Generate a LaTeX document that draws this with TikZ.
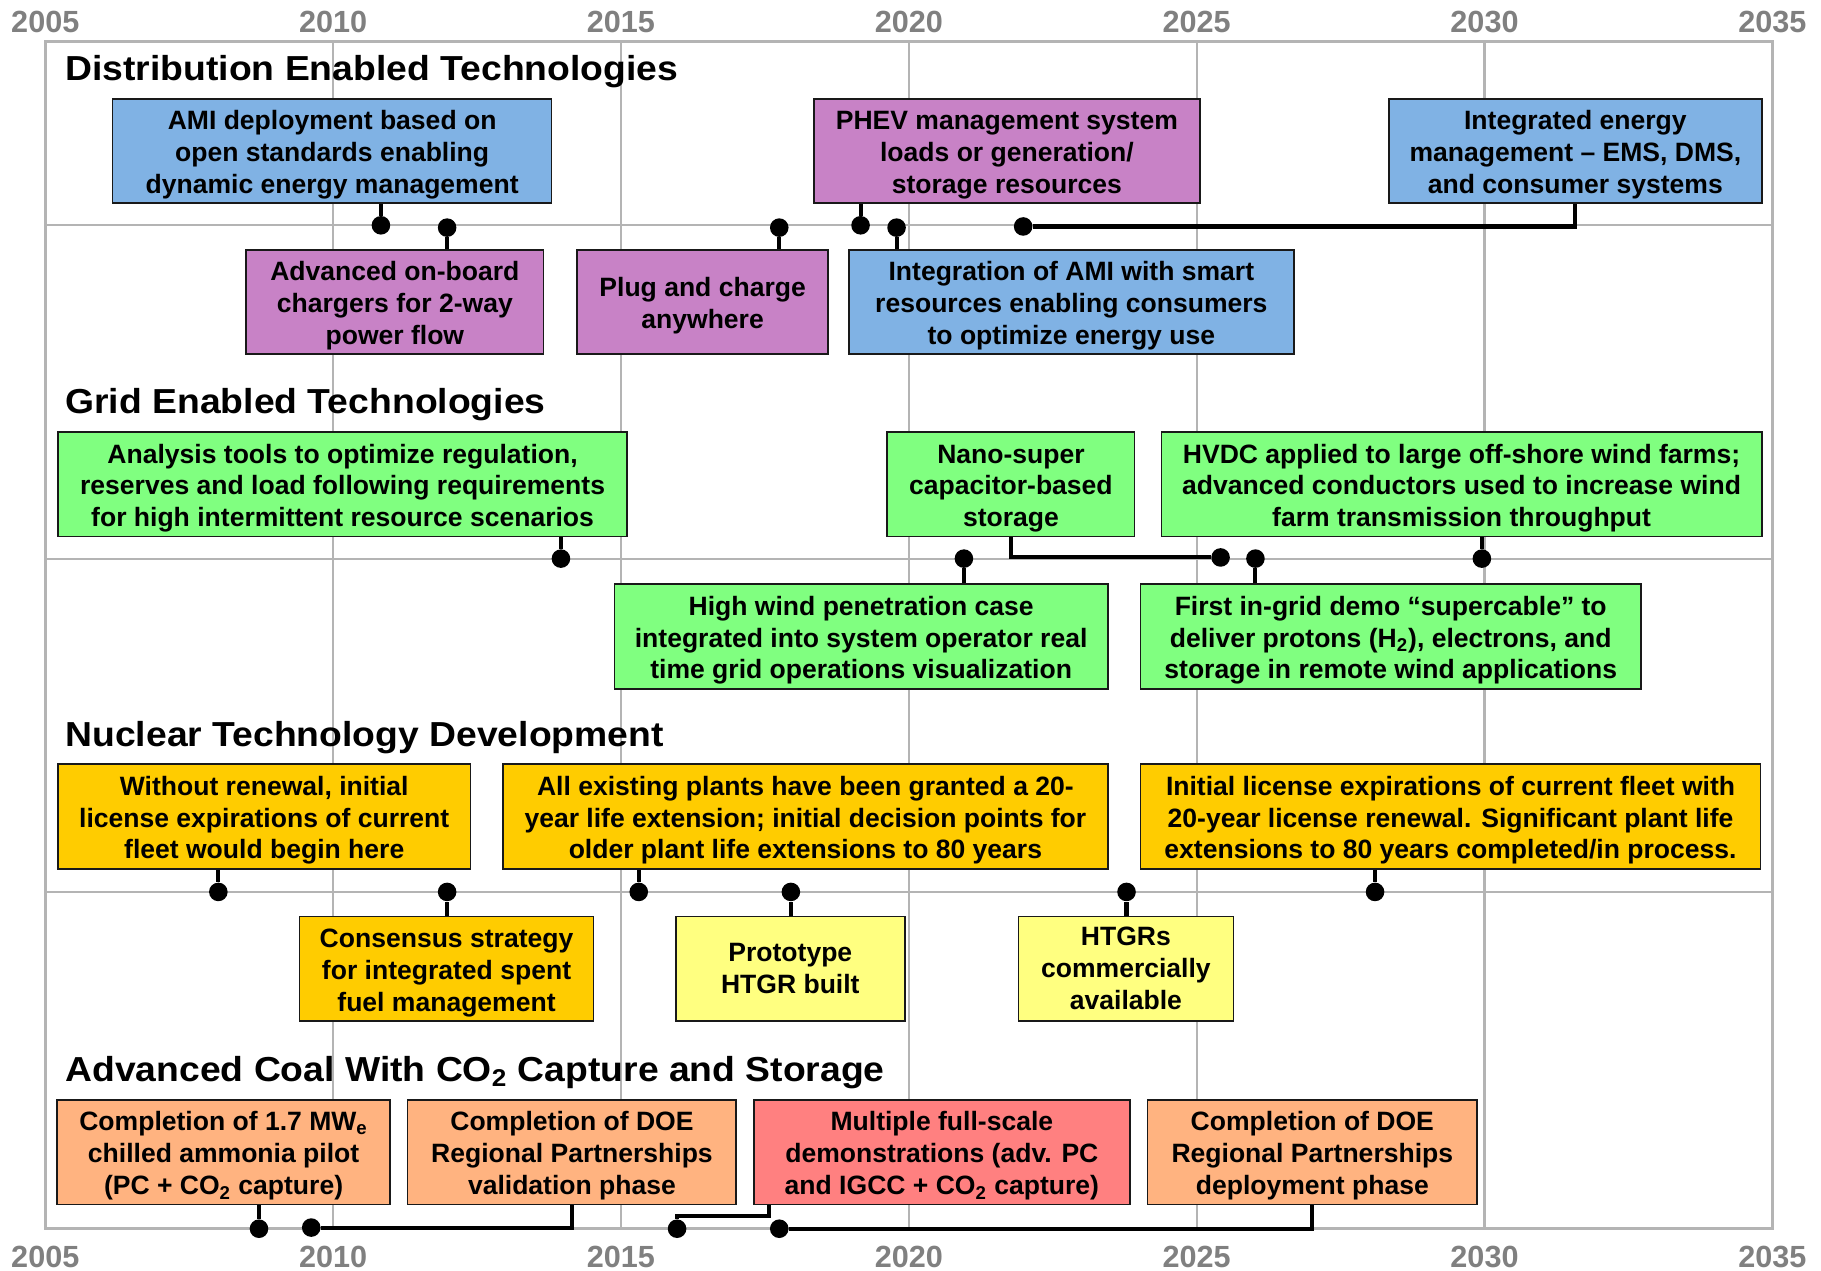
\documentclass[tikz,border=0pt]{standalone}
\usepackage{fontspec}
\setmainfont{Liberation Sans}
\newfontfamily\headfont[FakeStretch=1.075]{Liberation Sans}
\usepackage{tikz}
\usetikzlibrary{calc}

\definecolor{amiblue}{HTML}{80B2E4}
\definecolor{phevpurple}{HTML}{C882C6}
\definecolor{gridgreen}{HTML}{80FF80}
\definecolor{nucgold}{HTML}{FFCC00}
\definecolor{htgryellow}{HTML}{FFFF80}
\definecolor{coalpeach}{HTML}{FFB380}
\definecolor{coalred}{HTML}{FF8080}
\definecolor{framegray}{HTML}{B4B4B4}
\definecolor{yeargray}{HTML}{808080}

% first line strut, so the text sits as in the slide
\newcommand{\evtop}{\rule{0pt}{13.2pt}}

\tikzset{
    event/.style={draw=black!90, line width=0.8pt, align=center, inner sep=0pt,
        minimum height=18mm, font=\fontsize{13}{15.6}\selectfont\bfseries},
    milestone/.style={circle, fill=black, inner sep=0pt, minimum size=3.2mm},
    link/.style={line width=2pt},
    section/.style={anchor=base west, inner sep=0pt, font=\headfont\fontsize{17}{20}\selectfont\bfseries},
    year/.style={font=\fontsize{15}{18}\selectfont\bfseries, text=yeargray},
}

\begin{document}
\begin{tikzpicture}[x=0.2mm, y=-0.2mm]
        \useasboundingbox (0,0) rectangle (1568,1094);
        \def\yw{49.57}

        % time grid
        \foreach \yr in {2010,2015,...,2030} {
            \draw[framegray, line width=1pt] ({39+(\yr-2005)*\yw},36) -- ({39+(\yr-2005)*\yw},1058);
        }
        \foreach \yy in {194,481,768} {
            \draw[framegray, line width=1pt] (39,\yy) -- (1526,\yy);
        }
        \draw[framegray, line width=1.6pt] (39,36) rectangle (1526,1058);
        \foreach \yr in {2005,2010,...,2035} {
            \node[year] (top-\yr) at ({39+(\yr-2005)*\yw},19) {\yr};
            \node[year] (bot-\yr) at ({39+(\yr-2005)*\yw},1082) {\yr};
        }

        % section titles
        \node[section] (dist) at (56,69) {Distribution Enabled Technologies};
        \node[section] (grid) at (56,356) {Grid Enabled Technologies};
        \node[section] (nuc) at (56,643) {Nuclear Technology Development};
        \node[section] (coal) at (56,931) {Advanced Coal With CO\textsubscript{2} Capture and Storage};

        % distribution
        \node[event, fill=amiblue, minimum width=75.6mm] (ami) at (286,130) {\evtop AMI deployment based on\\open standards enabling\\dynamic energy management};
        \node[event, fill=phevpurple, minimum width=51.2mm] (chg) at (340,260) {\evtop Advanced on-board\\chargers for 2-way\\power flow};
        \node[event, fill=phevpurple, minimum width=43.2mm] (plug) at (605,260) {\evtop Plug and charge\\anywhere};
        \node[event, fill=phevpurple, minimum width=66.4mm] (phev) at (867,130) {\evtop PHEV management system\\loads or generation/\\storage resources};
        \node[event, fill=amiblue, minimum width=76.6mm] (amiint) at (922.5,260) {\evtop Integration of AMI with smart\\resources enabling consumers\\to optimize energy use};
        \node[event, fill=amiblue, minimum width=64.2mm] (iem) at (1356.5,130) {\evtop Integrated energy\\management -- EMS, DMS,\\and consumer systems};

        % grid
        \node[event, fill=gridgreen, minimum width=98mm] (ana) at (295,417) {\evtop Analysis tools to optimize regulation,\\reserves and load following requirements\\for high intermittent resource scenarios};
        \node[event, fill=gridgreen, minimum width=42.6mm] (nano) at (870.5,417) {\evtop Nano-super\\capacitor-based\\storage};
        \node[event, fill=gridgreen, minimum width=103.4mm] (hvdc) at (1258.5,417) {\evtop HVDC applied to large off-shore wind farms;\\advanced conductors used to increase wind\\farm transmission throughput};
        \node[event, fill=gridgreen, minimum width=85mm] (wind) at (741.5,548) {\evtop High wind penetration case\\integrated into system operator real\\time grid operations visualization};
        \node[event, fill=gridgreen, minimum width=86.2mm] (supc) at (1197.5,548) {\evtop First in-grid demo “supercable” to\\deliver protons (H\textsubscript{2}), electrons, and\\storage in remote wind applications};

        % nuclear
        \node[event, fill=nucgold, minimum width=71mm] (wor) at (227.5,703) {\evtop Without renewal, initial\\license expirations of current\\fleet would begin here};
        \node[event, fill=nucgold, minimum width=104.2mm] (ext) at (693.5,703) {\evtop All existing plants have been granted a 20-\\year life extension; initial decision points for\\older plant life extensions to 80 years};
        \node[event, fill=nucgold, minimum width=106.8mm] (lic) at (1249,703) {\evtop Initial license expirations of current fleet with\\20-year license renewal. Significant plant life\\extensions to 80 years completed/in process.};
        \node[event, fill=nucgold, minimum width=50.6mm] (fuel) at (384.5,834) {\evtop Consensus strategy\\for integrated spent\\fuel management};
        \node[event, fill=htgryellow, minimum width=39.4mm] (proto) at (680.5,834) {Prototype\\HTGR built};
        \node[event, fill=htgryellow, minimum width=37mm] (htgr) at (969.5,834) {HTGRs\\commercially\\available};

        % coal
        \node[event, fill=coalpeach, minimum width=57.4mm] (pilot) at (192.5,992) {\evtop Completion of 1.7 MW\textsubscript{e}\\chilled ammonia pilot\\(PC + CO\textsubscript{2} capture)};
        \node[event, fill=coalpeach, minimum width=56.6mm] (val) at (492.5,992) {\evtop Completion of DOE\\Regional Partnerships\\validation phase};
        \node[event, fill=coalred, minimum width=64.8mm] (demo) at (811,992) {\evtop Multiple full-scale\\demonstrations (adv. PC\\and IGCC + CO\textsubscript{2} capture)};
        \node[event, fill=coalpeach, minimum width=56.8mm] (dep) at (1130,992) {\evtop Completion of DOE\\Regional Partnerships\\deployment phase};

        % milestones hanging below a box
        \foreach \n/\xx/\yy in {ami/328/194, phev/741/194, ana/483/481, hvdc/1276/481,
                wor/188/768, ext/550/768, lic/1184/768, pilot/223/1058} {
            \node[milestone] (d-\n) at (\xx,\yy) {};
            \draw[link] (\n.south -| d-\n) -- (d-\n);
        }
        % milestones standing on a box
        \foreach \n/\xx/\yy in {chg/385/196, plug/671/196, amiint/772/196, wind/830/481,
                supc/1081/481, fuel/385/768, proto/681/768, htgr/970/768} {
            \node[milestone] (d-\n) at (\xx,\yy) {};
            \draw[link] (\n.north -| d-\n) -- (d-\n);
        }
        % milestones reached along the timeline
        \node[milestone] (d-iem) at (881,195) {};
        \node[milestone] (d-nano) at (1051,480) {};
        \node[milestone] (d-val) at (268,1057) {};
        \node[milestone] (d-dep) at (671,1058) {};
        \node[milestone] (d-demo) at (583,1058) {};
        \draw[link] (iem.south) -- (iem.south |- d-iem) -- (d-iem);
        \draw[link] (nano.south) -- (nano.south |- d-nano) -- (d-nano);
        \draw[link] (val.south) -- (val.south |- d-val) -- (d-val);
        \draw[link] (dep.south) -- (dep.south |- d-dep) -- (d-dep);
        \coordinate (demo-bend) at (662,1047);
        \draw[link] (demo.south -| demo-bend) -- (demo-bend) -- (demo-bend -| d-demo) -- (d-demo);
    \end{tikzpicture}
\end{document}
